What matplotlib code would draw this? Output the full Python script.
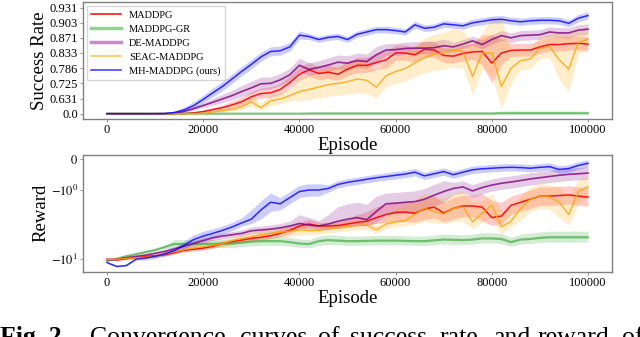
import numpy as np
import matplotlib
matplotlib.use("Agg")
import matplotlib.pyplot as plt
from matplotlib.lines import Line2D

plt.rcParams['font.family'] = ['Liberation Serif', 'DejaVu Serif']
plt.rcParams['mathtext.fontset'] = 'stix'

# episodes (every 2000)
episodes = np.arange(0, 100001, 2000)

names = ['MADDPG', 'MADDPG-GR', 'DE-MADDPG', 'SEAC-MADDPG', 'MH-MADDPG (ours)']

# ---- success rate (mean, spread) ----
sr_maddpg = [0, 0, 0, 0, 0, 0, 0, 0, .251, .359, .426, .486, .525, .566, .603, .645, .668,
             .673, .693, .729, .764, .781, .767, .772, .764, .783, .796, .796, .805, .813,
             .833, .833, .828, .843, .841, .826, .824, .832, .836, .837, .803, .833, .840,
             .841, .841, .849, .855, .855, .857, .858, .856]
sr_maddpg_sd = [0]*8 + [.03, .04, .045, .042, .042, .042, .04, .035, .034, .034, .032, .028] \
    + [.025]*10 + [.021]*9 + [.04, .075, .035] + [.017]*9

sr_gr = [0]*21 + [.25]*20 + [.3]*10
sr_gr_sd = [.15]*51

sr_de = [0, 0, 0, 0, 0, 0, 0, .288, .432, .506, .558, .597, .628, .654, .681, .702, .723,
         .725, .741, .762, .796, .782, .789, .797, .806, .803, .811, .808, .828, .841, .842,
         .845, .846, .846, .847, .852, .849, .856, .864, .855, .867, .876, .871, .876, .877,
         .878, .884, .882, .882, .888, .890]
sr_de_sd = [0]*7 + [.04, .04, .035, .032, .035, .035, .034, .034, .033, .03, .028, .026, .024, .022] \
    + [.022]*8 + [.016]*7 + [.011]*15

sr_seac = [0, 0, 0, 0, 0, 0, 0, 0, 0, 0, .288, .406, .457, .496, .540, .600, .525, .611,
           .627, .654, .681, .693, .707, .719, .725, .733, .745, .739, .706, .758, .775,
           .785, .804, .820, .829, .833, .841, .837, .755, .833, .833, .710, .786, .811,
           .816, .845, .850, .814, .783, .860, .868]
sr_seac_sd = [0]*10 + [.04, .06, .06, .06, .06, .055, .06, .05, .05, .045] + [.07]*9 + [.05]*9 \
    + [.1, .05, .08, .2, .06] + [.03]*4 + [.07, .1, .03, .025]

sr_mh = [0, 0, 0, 0, 0, 0, .251, .381, .478, .556, .624, .673, .710, .745, .775, .799, .822,
         .837, .839, .849, .877, .874, .867, .872, .874, .867, .879, .884, .889, .889, .887,
         .884, .899, .892, .894, .901, .899, .897, .903, .906, .909, .910, .907, .905, .907,
         .908, .908, .907, .902, .912, .917]
sr_mh_sd = [0]*6 + [.03, .06, .055, .045, .033, .028, .024, .02, .017, .015, .013, .012, .012,
                    .011, .009] + [.007]*30

# ---- reward (mean, spread) ----
rw_maddpg = [-10.0, -10.3, -9.8, -9.3, -8.9, -8.6, -8.3, -7.6, -6.9, -6.6,
             -6.3, -5.8, -5.2, -4.8, -4.5, -4.2, -4.0, -3.75, -3.4, -3.0,
             -2.5, -2.3, -2.5, -2.5, -2.45, -2.3, -2.15, -2.05, -1.9, -1.8,
             -1.73, -1.72, -1.76, -1.62, -1.56, -1.75, -1.6, -1.52, -1.52, -1.56,
             -1.9, -1.85, -1.5, -1.4, -1.3, -1.2, -1.2, -1.18, -1.16, -1.2, -1.23]
rw_maddpg_sd = [.4]*8 + [.5]*12 + [.35]*19 + [.45, .55, .45] + [.3]*9

rw_gr = [-10.7, -9.8, -8.8, -8.1, -7.4, -6.8, -6.0, -5.3, -5.3, -5.3,
         -5.3, -5.25, -5.2, -5.2, -5.0, -4.8, -4.7, -4.7, -4.7, -4.9,
         -5.2, -5.3, -4.7, -4.5, -4.6, -4.7, -4.7, -4.65, -4.6, -4.6,
         -4.6, -4.65, -4.7, -4.7, -4.55, -4.4, -4.45, -4.5, -4.4, -4.2,
         -4.2, -4.3, -4.9, -4.4, -4.3, -4.1, -4.0, -4.0, -4.0, -4.0, -4.0]
rw_gr_sd = [.4]*7 + [.9]*44

rw_de = [-10.2, -10.0, -9.4, -8.9, -8.4, -7.8, -7.2, -6.5, -5.8, -5.2,
         -4.6, -4.1, -3.8, -3.6, -3.4, -3.05, -2.95, -2.85, -2.7, -2.5,
         -2.25, -2.4, -2.5, -2.3, -2.05, -1.95, -1.9, -1.97, -1.7, -1.45,
         -1.43, -1.4, -1.38, -1.3, -1.17, -1.05, -0.95, -0.9, -1.03, -0.92,
         -0.84, -0.78, -0.74, -0.69, -0.64, -0.6, -0.56, -0.52, -0.49, -0.47, -0.45]
rw_de_sd = [.4]*6 + [.6]*5 + [.45]*10 + [.5]*8 + [.35]*7 + [.2]*15

rw_seac = [-10.2, -10.0, -9.7, -9.4, -9.2, -8.9, -8.0, -7.3, -6.7, -6.2,
           -5.9, -5.6, -5.2, -4.6, -4.2, -3.9, -3.6, -3.4, -3.25, -3.1,
           -2.95, -3.05, -3.0, -2.85, -2.7, -2.55, -2.45, -2.4, -2.95, -2.3,
           -2.1, -2.0, -1.8, -1.6, -1.7, -1.78, -1.6, -1.55, -2.1, -1.75,
           -1.5, -2.6, -2.05, -1.6, -1.3, -1.2, -1.22, -1.4, -1.8, -1.05, -0.89]
rw_seac_sd = [.4]*6 + [.7]*15 + [.5]*17 + [.7, .4, .4, .9, .5] + [.4]*4 + [.5, .6, .4, .35]

rw_mh = [-11.5, -13.5, -13.0, -10.0, -9.5, -8.9, -8.0, -7.0, -5.6, -4.4,
         -3.8, -3.4, -3.0, -2.6, -2.2, -1.95, -1.65, -1.4, -1.45, -1.25,
         -1.05, -1.0, -1.0, -0.95, -0.82, -0.75, -0.7, -0.65, -0.6, -0.56,
         -0.52, -0.48, -0.42, -0.54, -0.47, -0.4, -0.5, -0.42, -0.34, -0.31,
         -0.29, -0.27, -0.26, -0.27, -0.29, -0.26, -0.24, -0.33, -0.3, -0.2, -0.13]
rw_mh_sd = [.4]*4 + [.8]*4 + [.9, .8, .7, .6, .5, .45] + [.3]*4 + [.2]*5 + [.12]*28

sr_ticks = [0.0, 0.631, 0.725, 0.786, 0.833, 0.871, 0.903, 0.931]
sr_ticklabels = ['0.0', '0.631', '0.725', '0.786', '0.833', '0.871', '0.903', '0.931']

colors = ['#ff0000', '#2ca02c', '#800080', '#ffa500', '#0000ff']
sr_all = [(sr_maddpg, sr_maddpg_sd), (sr_gr, sr_gr_sd), (sr_de, sr_de_sd),
          (sr_seac, sr_seac_sd), (sr_mh, sr_mh_sd)]
rw_all = [(rw_maddpg, rw_maddpg_sd), (rw_gr, rw_gr_sd), (rw_de, rw_de_sd),
          (rw_seac, rw_seac_sd), (rw_mh, rw_mh_sd)]
line_kw = [dict(lw=1.1, alpha=0.9), dict(lw=1.6, alpha=0.6), dict(lw=1.2, alpha=0.8),
           dict(lw=1.0, alpha=0.85), dict(lw=1.1, alpha=0.8)]


def fwd(v):
    v = np.asarray(v, dtype=float)
    return np.sign(v) * np.abs(v) ** 5


def inv(t):
    t = np.asarray(t, dtype=float)
    return np.sign(t) * np.abs(t) ** 0.2


fig = plt.figure(figsize=(6.4, 3.37), dpi=100)
ax1 = fig.add_axes([0.1297, 0.647, 0.8266, 0.347])
ax2 = fig.add_axes([0.1297, 0.193, 0.8266, 0.3485])

ax1.set_yscale('function', functions=(fwd, inv))
ax2.set_yscale('symlog', linthresh=2)

for (m, s), (r, rs), c, kw in zip(sr_all, rw_all, colors, line_kw):
    m, s, r, rs = map(np.array, (m, s, r, rs))
    ax1.fill_between(episodes, m - s, m + s, color=c, alpha=0.2, lw=0)
    ax1.plot(episodes, m, color=c, **kw)
    ax2.fill_between(episodes, r - rs, r + rs, color=c, alpha=0.2, lw=0)
    ax2.plot(episodes, r, color=c, **kw)

ax1.set_ylim(-0.511, 0.941)
ax1.set_yticks(sr_ticks)
ax1.set_yticklabels(sr_ticklabels)
ax1.set_ylabel('Success Rate', fontsize=13.5, labelpad=1)

ax2.set_ylim(-17, 0.157)
ax2.set_yticks([-10, -1, 0])
ax2.set_yticklabels([r'$-10^{1}$', r'$-10^{0}$', r'$0$'])
ax2.set_ylabel('Reward', fontsize=13.5, labelpad=1)

for ax in (ax1, ax2):
    ax.set_xlim(-5000, 105000)
    ax.set_xticks([0, 20000, 40000, 60000, 80000, 100000])
    ax.set_xlabel('Episode', fontsize=13.5, labelpad=1)
    ax.tick_params(labelsize=9, length=2, width=0.6, color='#808080', pad=1.5)
    ax.minorticks_off()
    for sp in ax.spines.values():
        sp.set_color('#808080')
        sp.set_linewidth(1.0)

handles = [Line2D([], [], color=colors[0], lw=1.1),
           Line2D([], [], color=colors[1], lw=2.5, alpha=0.5),
           Line2D([], [], color=colors[2], lw=2.5, alpha=0.45),
           Line2D([], [], color=colors[3], lw=1.1, alpha=0.7),
           Line2D([], [], color=colors[4], lw=1.1, alpha=0.8)]
ax1.legend(handles, names, loc='upper left', fontsize=7.5, frameon=True,
           handlelength=2.8, borderpad=0.4, labelspacing=0.45, edgecolor='#cccccc',
           fancybox=False, borderaxespad=0.4)

# caption (cut off at the bottom of the image, as in the source figure)
fig.text(0.0, -0.02, 'Fig. 2.', fontsize=18.5, fontweight='bold', va='baseline')
words = ['Convergence', 'curves', 'of', 'success', 'rate', 'and', 'reward', 'of']
word_x = [90, 240, 318, 350, 440, 493, 537, 622]
for w, x in zip(words, word_x):
    fig.text(x / 640, -0.02, w, fontsize=18.5, va='baseline')

fig.savefig('out.png', dpi=100)
